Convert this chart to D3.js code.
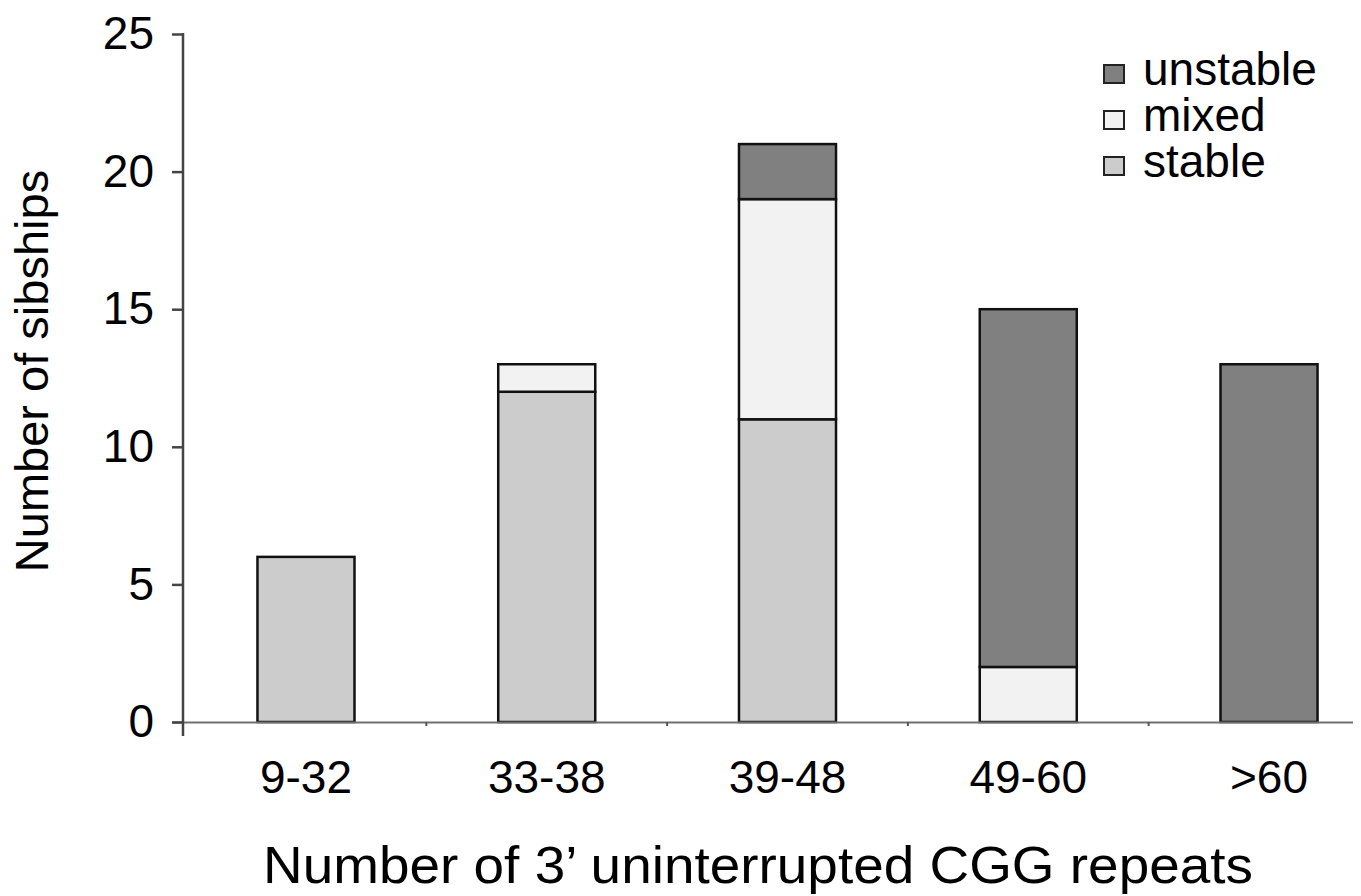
<!DOCTYPE html>
<html>
<head>
<meta charset="utf-8">
<script src="https://cdn.jsdelivr.net/npm/d3@7"></script>
<style>
  html, body { margin: 0; padding: 0; background: #fff; }
  svg { display: block; font-family: "Liberation Sans", Arial, sans-serif; }
</style>
</head>
<body>
<svg id="chart" width="1361" height="896"></svg>
<script>
const categories = ["9-32", "33-38", "39-48", "49-60", ">60"];
const stable   = [6, 12, 11, 0, 0];
const mixed    = [0, 1, 8, 2, 0];
const unstable = [0, 0, 2, 13, 13];
const seriesNames = ["stable", "mixed", "unstable"];
const legendOrder = ["unstable", "mixed", "stable"];
const yTicks = [0, 5, 10, 15, 20, 25];
const xTitle = "Number of 3\u2019 uninterrupted CGG repeats";
const yTitle = "Number of sibships";

const colors = { stable: "#cccccc", mixed: "#f2f2f2", unstable: "#808080" };

const svg = d3.select("#chart");

const table = categories.map((c, i) => ({ cat: c, stable: stable[i], mixed: mixed[i], unstable: unstable[i] }));

const x = d3.scaleBand().domain(categories).range([185.6, 1389.4]).paddingInner(0.597).paddingOuter(0.2985);
const y = d3.scaleLinear().domain([0, 25]).range([722, 34]);

const stack = d3.stack().keys(seriesNames);
const layers = stack(table);

// bars
const g = svg.append("g");
layers.forEach(layer => {
  g.selectAll(null)
    .data(layer.filter(d => d[1] - d[0] > 0))
    .enter().append("rect")
    .attr("x", d => x(d.data.cat))
    .attr("width", x.bandwidth())
    .attr("y", d => y(d[1]))
    .attr("height", d => y(d[0]) - y(d[1]))
    .attr("fill", colors[layer.key])
    .attr("stroke", "#111")
    .attr("stroke-width", 2.5);
});

// x axis line
const xAxisY = y(0);
svg.append("line")
  .attr("x1", 172).attr("x2", 1353)
  .attr("y1", xAxisY + 0.5).attr("y2", xAxisY + 0.5)
  .attr("stroke", "#707070").attr("stroke-width", 2);

// small ticks between categories
categories.slice(1).forEach(c => {
  const bx = x(c) - x.step() * x.paddingInner() / 2;
  if (bx < 1353) {
    svg.append("line")
      .attr("x1", bx).attr("x2", bx)
      .attr("y1", xAxisY).attr("y2", xAxisY + 4)
      .attr("stroke", "#555").attr("stroke-width", 2);
  }
});

// x tick labels
svg.selectAll(null).data(categories).enter().append("text")
  .attr("x", d => x(d) + x.bandwidth() / 2)
  .attr("y", 793)
  .attr("text-anchor", "middle")
  .attr("font-size", 46)
  .attr("fill", "#000")
  .text(d => d);

// y axis
const yAxis = d3.axisLeft(y).tickValues(yTicks).tickSize(11).tickPadding(18).tickSizeOuter(0);
const ya = svg.append("g").attr("transform", "translate(183,0)").call(yAxis);
ya.select(".domain").remove();
ya.selectAll(".tick line").attr("stroke", "#444").attr("stroke-width", 2.5);
ya.selectAll(".tick text").attr("font-size", 46).attr("fill", "#000")
  .attr("font-family", "Liberation Sans, Arial, sans-serif");
svg.append("line")
  .attr("x1", 183).attr("x2", 183)
  .attr("y1", 33).attr("y2", 736)
  .attr("stroke", "#444").attr("stroke-width", 2.5);

// axis titles
svg.append("text")
  .attr("x", 758).attr("y", 883)
  .attr("text-anchor", "middle")
  .attr("font-size", 52)
  .attr("textLength", 990)
  .attr("lengthAdjust", "spacingAndGlyphs")
  .attr("fill", "#000")
  .text(xTitle);

svg.append("text")
  .attr("transform", "translate(48,371) rotate(-90)")
  .attr("text-anchor", "middle")
  .attr("font-size", 47)
  .attr("fill", "#000")
  .text(yTitle);

// legend
const legend = svg.append("g");
legendOrder.forEach((k, i) => {
  const ly = 85 + i * 46;
  legend.append("rect")
    .attr("x", 1104).attr("y", ly - 20)
    .attr("width", 20).attr("height", 18)
    .attr("fill", colors[k]).attr("stroke", "#222").attr("stroke-width", 2);
  legend.append("text")
    .attr("x", 1143).attr("y", ly)
    .attr("font-size", 46)
    .attr("fill", "#000")
    .text(k);
});
</script>
</body>
</html>
